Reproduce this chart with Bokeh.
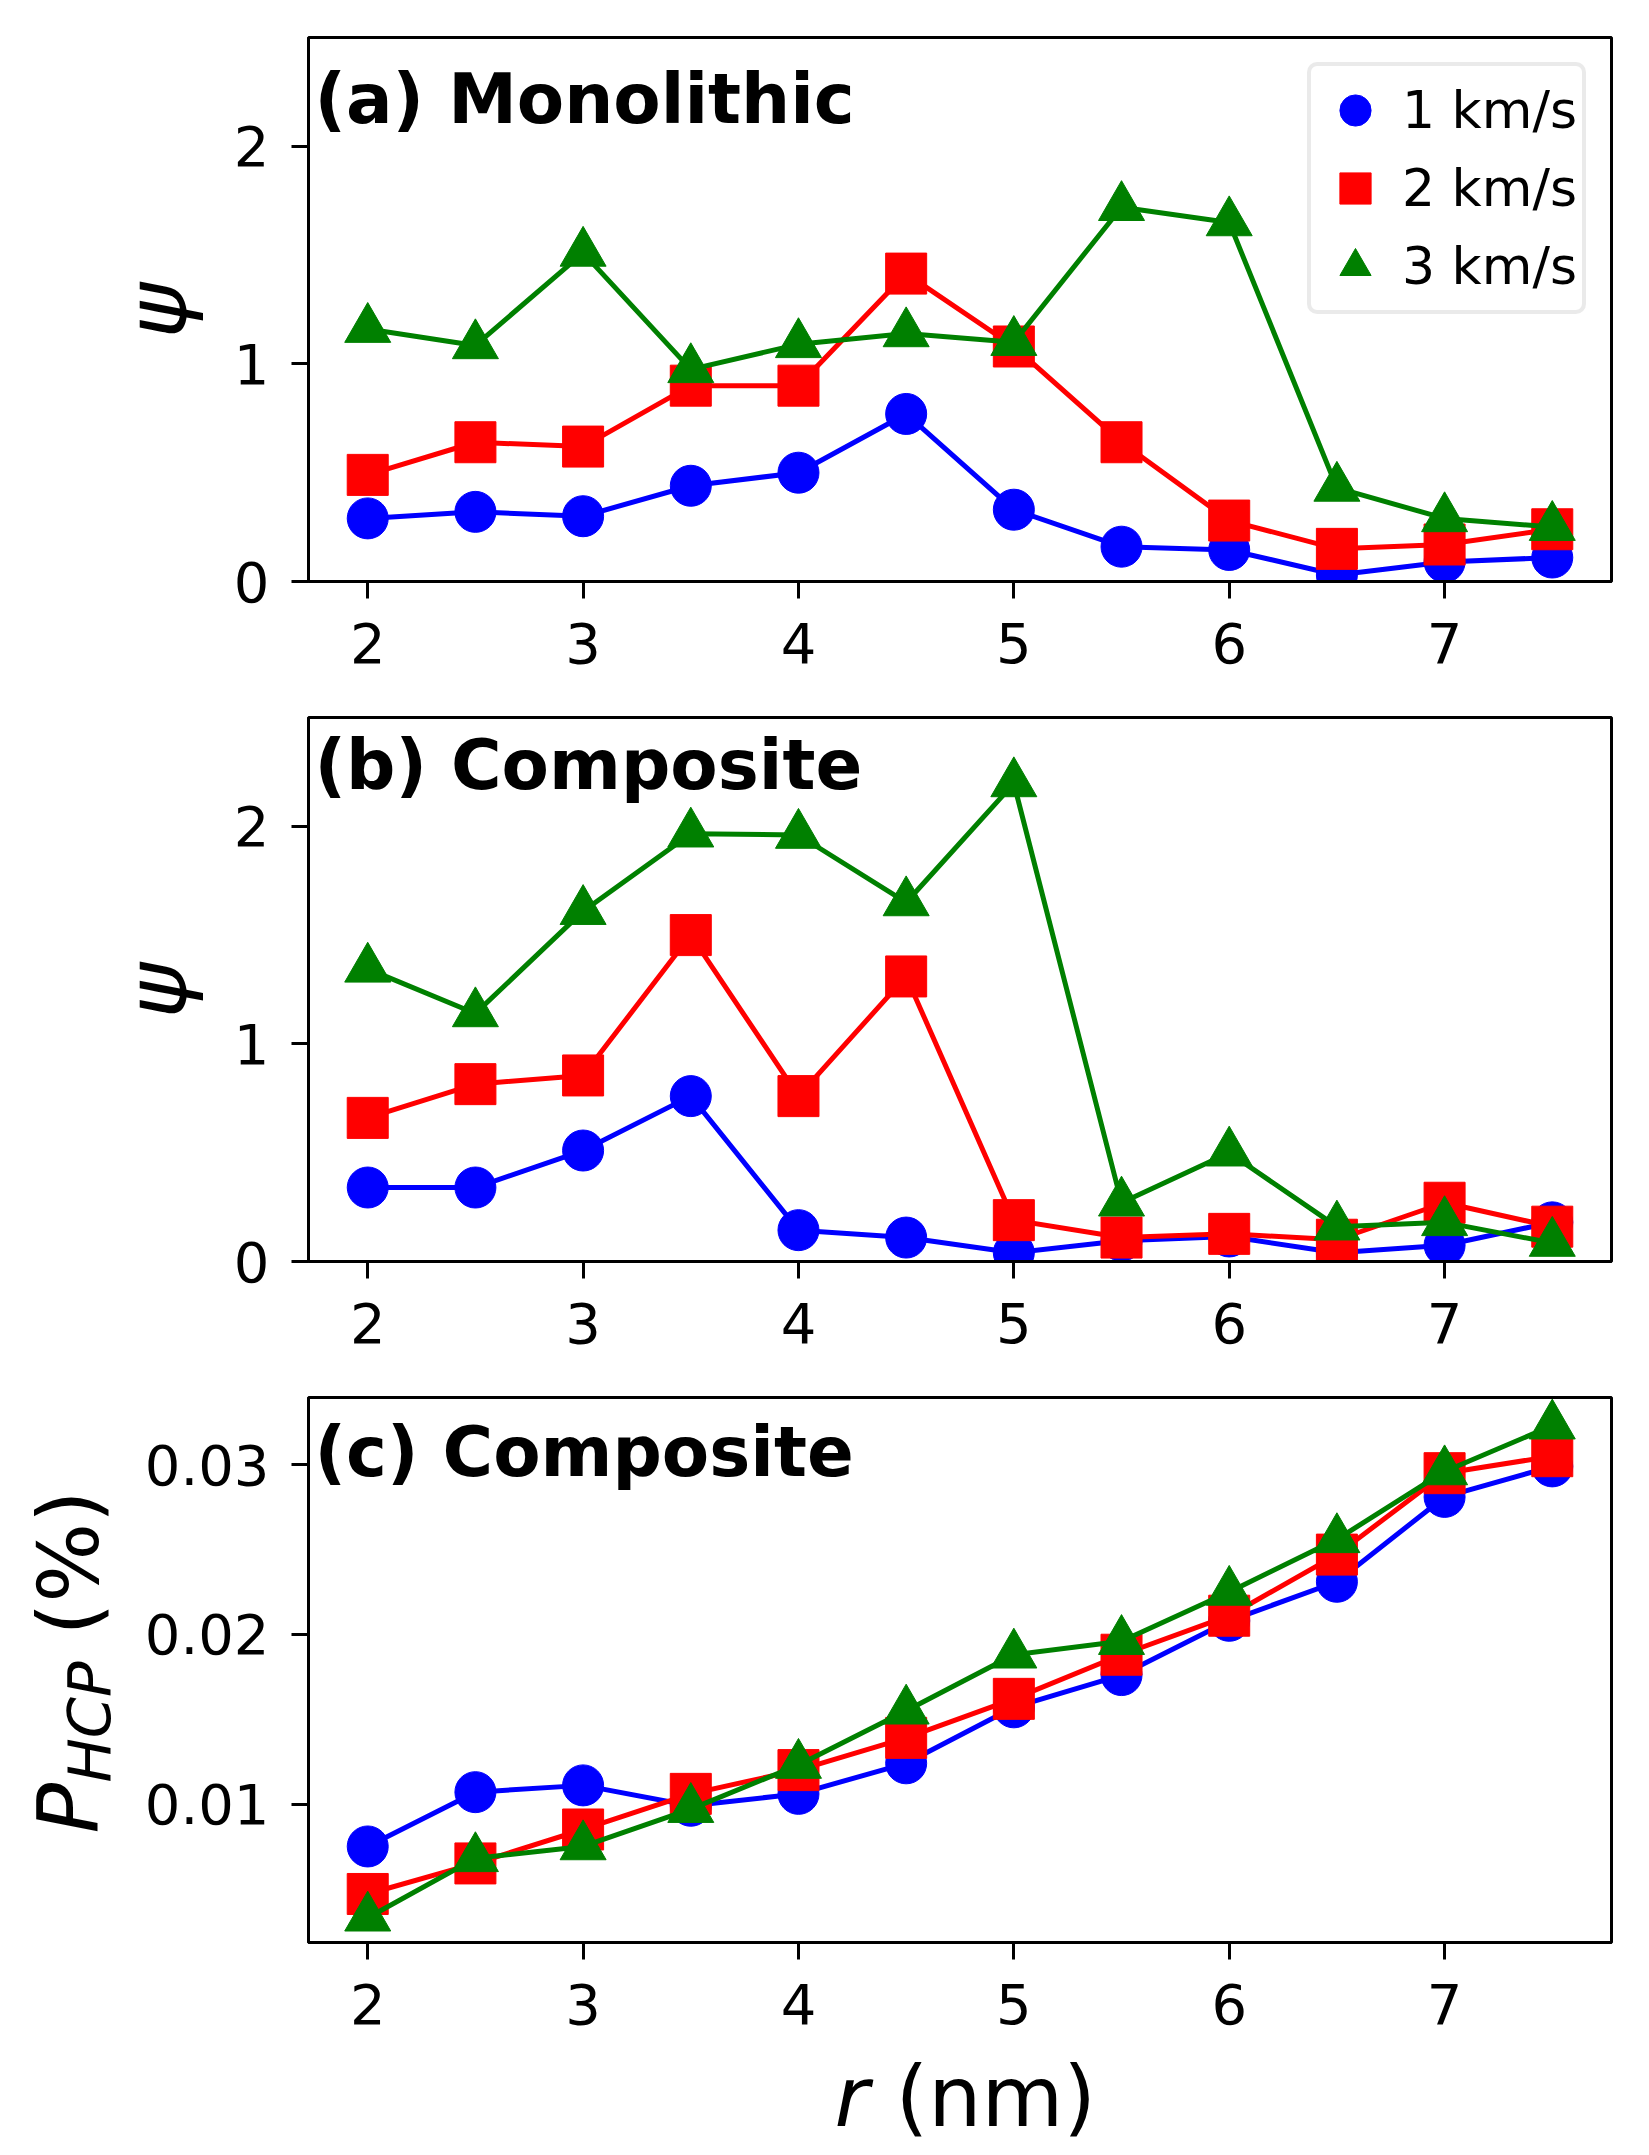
from bokeh.plotting import figure
from bokeh.models import Range1d, FixedTicker, Label, Legend, LegendItem
from bokeh.layouts import column, row
from bokeh.embed import file_html
from bokeh.resources import INLINE

# radius of the inclusion (nm)
r_nm = [2.0, 2.5, 3.0, 3.5, 4.0, 4.5, 5.0, 5.5, 6.0, 6.5, 7.0, 7.5]
speeds = ["1 km/s", "2 km/s", "3 km/s"]
colors = ["#0000ff", "#ff0000", "#008000"]
markers = ["circle", "square", "triangle"]
msizes = [41, 41, 46]

# (a) Monolithic, psi
mono_1 = [0.29, 0.32, 0.30, 0.44, 0.50, 0.77, 0.33, 0.16, 0.145, 0.03, 0.09, 0.11]
mono_2 = [0.49, 0.64, 0.62, 0.90, 0.90, 1.415, 1.08, 0.64, 0.28, 0.15, 0.17, 0.24]
mono_3 = [1.16, 1.085, 1.51, 0.975, 1.09, 1.14, 1.10, 1.72, 1.65, 0.43, 0.29, 0.25]

# (b) Composite, psi
comp_1 = [0.34, 0.34, 0.51, 0.76, 0.144, 0.11, 0.04, 0.095, 0.115, 0.04, 0.075, 0.18]
comp_2 = [0.66, 0.815, 0.855, 1.50, 0.76, 1.31, 0.19, 0.11, 0.127, 0.10, 0.27, 0.16]
comp_3 = [1.345, 1.14, 1.61, 1.966, 1.96, 1.65, 2.197, 0.27, 0.50, 0.16, 0.18, 0.085]

# (c) Composite, P_HCP (%)
hcp_1 = [0.0075, 0.0107, 0.0111, 0.0099, 0.0106, 0.0124, 0.0157, 0.0176, 0.0208, 0.0231, 0.0281, 0.0299]
hcp_2 = [0.0047, 0.0065, 0.0085, 0.0106, 0.0120, 0.0139, 0.0162, 0.0188, 0.0211, 0.0247, 0.0295, 0.0305]
hcp_3 = [0.0033, 0.0068, 0.0075, 0.0097, 0.0123, 0.0155, 0.0188, 0.0196, 0.0225, 0.0256, 0.0296, 0.0323]

x_ticks = [2, 3, 4, 5, 6, 7]
psi_ticks = [0, 1, 2]
hcp_ticks = [0.01, 0.02, 0.03]

FONT = "DejaVu Sans"


def make_panel(series, y_lo, y_hi, y_ticks, width, height, left, top, bottom,
               title, title_y, legend=False):
    p = figure(width=width, height=height,
               x_range=Range1d(1.725, 7.775), y_range=Range1d(y_lo, y_hi),
               output_backend="svg", toolbar_location=None,
               min_border_left=left, min_border_right=22,
               min_border_top=top, min_border_bottom=bottom)
    p.xgrid.visible = False
    p.ygrid.visible = False
    p.outline_line_color = "black"
    p.outline_line_width = 3
    p.outline_line_alpha = 1.0

    p.xaxis.ticker = FixedTicker(ticks=x_ticks)
    p.yaxis.ticker = FixedTicker(ticks=y_ticks)
    for ax in (p.xaxis[0], p.yaxis[0]):
        ax.axis_line_color = "black"
        ax.axis_line_width = 3
        ax.major_tick_in = 0
        ax.major_tick_out = 17
        ax.major_tick_line_width = 3
        ax.major_tick_line_color = "black"
        ax.minor_tick_line_color = None
        ax.major_label_text_font = FONT
        ax.major_label_text_font_size = "56px"
        ax.major_label_text_color = "black"
    p.xaxis.major_label_standoff = 24
    p.yaxis.major_label_standoff = 22

    items = []
    for ys, lab, c, m, sz in zip(series, speeds, colors, markers, msizes):
        p.line(r_nm, ys, line_color=c, line_width=5)
        s = p.scatter(r_nm, ys, marker=m, size=sz, fill_color=c, line_color=c)
        items.append(LegendItem(label=lab, renderers=[s]))

    if legend:
        leg = Legend(items=items, location="top_right", margin=25, padding=5,
                     glyph_width=78, glyph_height=78, spacing=0, label_standoff=8,
                     label_text_font=FONT, label_text_font_size="52px",
                     label_text_color="black",
                     border_line_color="#d5d5d5", border_line_width=4,
                     background_fill_alpha=0.8)
        if hasattr(leg, "border_radius"):
            leg.border_radius = 10
        p.add_layout(leg)

    p.add_layout(Label(x=6, y=title_y, x_units="screen", y_units="screen", text=title,
                       text_font=FONT, text_font_size="69px", text_font_style="bold",
                       text_baseline="alphabetic", text_color="black"))
    return p


def text_strip(w, h):
    # blank area that only carries axis-title text
    s = figure(width=w, height=h, x_range=Range1d(0, w), y_range=Range1d(0, h),
               output_backend="svg", toolbar_location=None, min_border=0,
               x_axis_type=None, y_axis_type=None, outline_line_color=None)
    return s


def vlabel(s, x, y, text, size, style="normal", align="left"):
    s.add_layout(Label(x=x, y=y, x_units="screen", y_units="screen", text=text,
                       angle=90, angle_units="deg", text_align=align,
                       text_baseline="alphabetic", text_font=FONT,
                       text_font_size=size, text_font_style=style, text_color="black"))


pa = make_panel([mono_1, mono_2, mono_3], 0, 2.5, psi_ticks, 1413, 688, 88, 37, 107,
                "(a) Monolithic", 483, legend=True)
pb = make_panel([comp_1, comp_2, comp_3], 0, 2.5, psi_ticks, 1413, 680, 88, 29, 107,
                "(b) Composite", 497)
pc = make_panel([hcp_1, hcp_2, hcp_3], 0.00184, 0.03396, hcp_ticks, 1493, 677, 168, 29, 103,
                "(c) Composite", 491)

# psi y labels (strip frames line up with the panel frames)
sa = text_strip(220, 688)
sb = text_strip(220, 680)
for s in (sa, sb):
    vlabel(s, 156, 271, "ψ", "84px", "italic", "center")

# P_HCP (%) label
sc = text_strip(140, 677)
vlabel(sc, 68, 109, "P", "84px", "italic")
vlabel(sc, 89, 160, "HCP", "59px", "italic")
vlabel(sc, 68, 307, "(%)", "84px")

# r (nm) x label
sx = text_strip(1633, 102)
sx.add_layout(Label(x=834, y=51, x_units="screen", y_units="screen", text="r",
                    text_align="left", text_baseline="alphabetic", text_color="black",
                    text_font=FONT, text_font_size="84px", text_font_style="italic"))
sx.add_layout(Label(x=895, y=51, x_units="screen", y_units="screen", text="(nm)",
                    text_align="left", text_baseline="alphabetic", text_color="black",
                    text_font=FONT, text_font_size="84px"))

layout = column(row(sa, pa), row(sb, pb), row(sc, pc), sx)
open("out.html", "w").write(file_html(layout, INLINE))
